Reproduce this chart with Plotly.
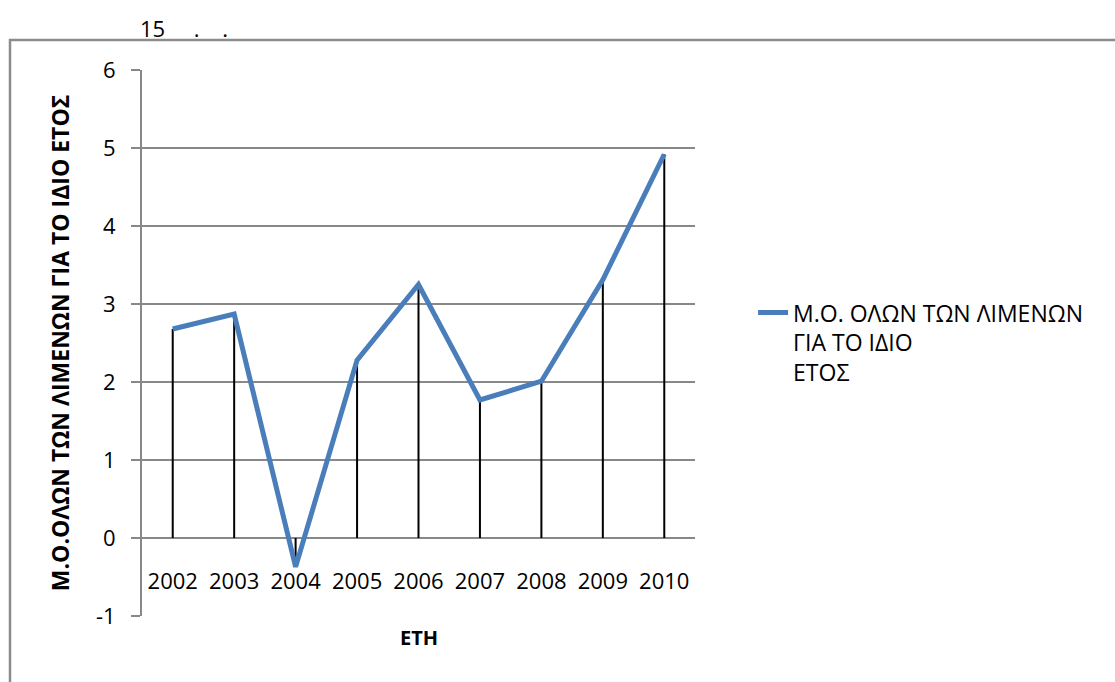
import plotly.graph_objects as go

years = ["2002", "2003", "2004", "2005", "2006", "2007", "2008", "2009", "2010"]
mean_values = [2.68, 2.87, -0.37, 2.28, 3.25, 1.77, 2.01, 3.31, 4.92]

y_ticks = [-1, 0, 1, 2, 3, 4, 5, 6]
y_tick_labels = ["-1", "0", "1", "2", "3", "4", "5", "6"]

series_name = "Μ.Ο. ΟΛΩΝ ΤΩΝ ΛΙΜΕΝΩΝ<br>ΓΙΑ ΤΟ ΙΔΙΟ<br>ΕΤΟΣ"
y_title = "Μ.Ο.ΟΛΩΝ ΤΩΝ ΛΙΜΕΝΩΝ ΓΙΑ ΤΟ ΙΔΙΟ ΕΤΟΣ"
x_title = "ΕΤΗ"
top_text = "15     .    ."

y_min, y_max = -1, 6
font = "Open Sans"
grid = "#888888"

# vertical drop lines from each point down to zero
drop_x, drop_y = [], []
for yr, v in zip(years, mean_values):
    drop_x += [yr, yr, None]
    drop_y += [0, v, None]

fig = go.Figure()
fig.add_trace(go.Scatter(x=drop_x, y=drop_y, mode="lines",
                         line=dict(color="black", width=2),
                         showlegend=False, hoverinfo="skip"))
fig.add_trace(go.Scatter(x=years, y=mean_values, mode="lines", name=series_name,
                         line=dict(color="#4a7ebb", width=5)))

fig.update_layout(
    width=1115, height=682,
    margin=dict(l=142, r=420, t=70, b=66),
    paper_bgcolor="white", plot_bgcolor="white",
    font=dict(family=font, size=22, color="black"),
    showlegend=True,
    legend=dict(x=1.105, y=0.595, xanchor="left", yanchor="top", valign="top",
                font=dict(size=23), bgcolor="rgba(0,0,0,0)"),
    xaxis=dict(type="category", range=[-0.5, len(years) - 0.5],
               anchor="free", position=(0 - y_min) / (y_max - y_min),
               showline=False, showgrid=False, ticks="",
               ticklabelstandoff=28, tickfont=dict(size=22)),
    yaxis=dict(range=[y_min, y_max], tickvals=y_ticks, ticktext=y_tick_labels,
               showgrid=True, gridcolor=grid,
               gridwidth=2, zeroline=False, showline=True, linecolor=grid,
               linewidth=2, ticks="outside", ticklen=9, tickcolor=grid,
               tickwidth=2, ticklabelstandoff=11, tickfont=dict(size=22)),
)

fig.add_annotation(text="<b>" + y_title + "</b>", xref="paper", yref="paper",
                   x=-0.148, y=0.5, xanchor="center", yanchor="middle",
                   textangle=-90, showarrow=False, font=dict(size=23))
fig.add_annotation(text="<b>" + x_title + "</b>", xref="paper", yref="paper",
                   x=0.5, y=-0.040, xanchor="center", yanchor="middle",
                   showarrow=False, font=dict(size=20))
fig.add_annotation(text=top_text, xref="paper", yref="paper",
                   x=-0.007, y=1.077, xanchor="left", yanchor="middle",
                   showarrow=False, font=dict(size=22))

# outer chart frame
fig.add_shape(type="rect", xref="paper", yref="paper",
              x0=-0.2387, x1=1.79, y0=-0.16, y1=1.055,
              line=dict(color="#8c8c8c", width=2.5), layer="below")

fig.write_html("out.html", config={"displayModeBar": False},
               post_script="document.body.style.margin='0';")
